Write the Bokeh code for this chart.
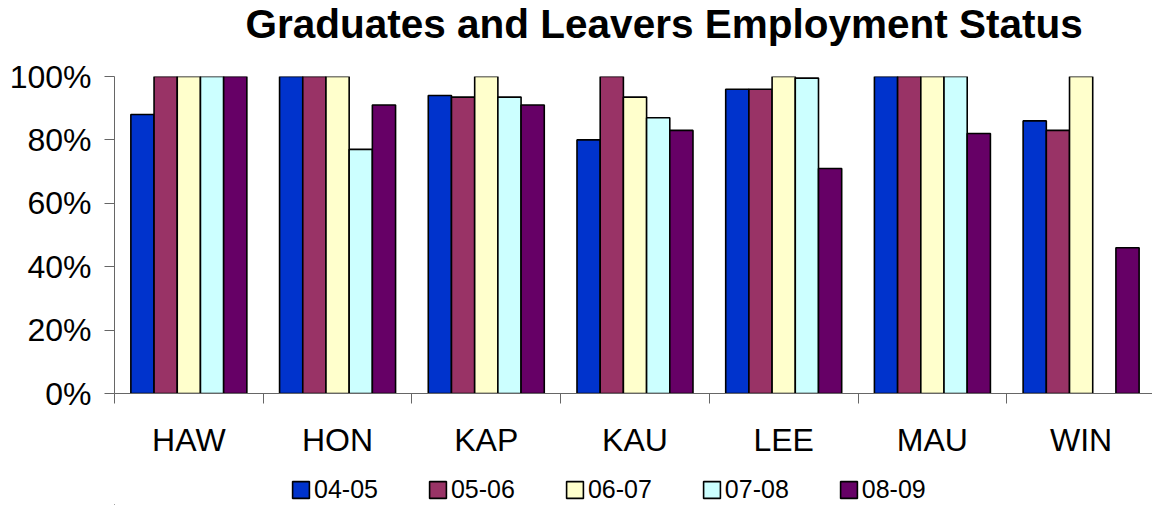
from bokeh.plotting import figure
from bokeh.layouts import column
from bokeh.models import Range1d, FixedTicker, PrintfTickFormatter, Legend, Label
from bokeh.embed import file_html
from bokeh.resources import INLINE

title_text = "Graduates and Leavers Employment Status"
categories = ["HAW", "HON", "KAP", "KAU", "LEE", "MAU", "WIN"]
series = ["04-05", "05-06", "06-07", "07-08", "08-09"]
colors = ["#0033CC", "#993366", "#FFFFCC", "#CCFFFF", "#660066"]
v_04_05 = [88, 100, 94, 80, 96, 100, 86]
v_05_06 = [100, 100, 93.5, 100, 96, 100, 83]
v_06_07 = [100, 100, 100, 93.5, 100, 100, 100]
v_07_08 = [100, 77, 93.5, 87, 99.5, 100, float("nan")]
v_08_09 = [100, 91, 91, 83, 71, 82, 46]
values = [v_04_05, v_05_06, v_06_07, v_07_08, v_08_09]
y_ticks = [0, 20, 40, 60, 80, 100]

FONT = "Liberation Sans"

# title strip
tf = figure(width=1152, height=50, output_backend="svg", toolbar_location=None,
            x_range=Range1d(0, 1038), y_range=Range1d(0, 50),
            x_axis_location=None, y_axis_location=None,
            min_border_left=0, min_border_right=0, min_border_top=0,
            min_border_bottom=0)
tf.outline_line_color = None
tf.grid.visible = False
tf.add_layout(Label(x=131, y=27, text=title_text, text_font=FONT,
                    text_font_size="40.5px", text_font_style="bold",
                    text_color="black", text_baseline="alphabetic"))

p = figure(width=1152, height=415, output_backend="svg", toolbar_location=None,
           x_range=Range1d(0, 6.98), y_range=Range1d(0, 100),
           min_border_left=114, min_border_right=0, min_border_top=26,
           min_border_bottom=72)
p.outline_line_color = None
p.xgrid.grid_line_color = None
p.ygrid.grid_line_color = None

bw = 0.156
for j, (s, c, vals) in enumerate(zip(series, colors, values)):
    xs = [i + 0.5 + (j - 2) * bw for i in range(len(categories))]
    p.vbar(x=xs, top=vals, width=bw, bottom=0, fill_color=c,
           line_color="black", line_width=1.6)

# y axis
ya = p.yaxis[0]
ya.ticker = FixedTicker(ticks=y_ticks, minor_ticks=[])
ya.formatter = PrintfTickFormatter(format="%d%%")
ya.major_label_text_font = FONT
ya.major_label_text_font_size = "32px"
ya.major_label_text_color = "black"
ya.major_tick_out = 10
ya.major_tick_in = 0
ya.major_label_standoff = 13
ya.axis_line_color = "#666666"
ya.major_tick_line_color = "#666666"

# x axis
xa = p.xaxis[0]
xa.ticker = FixedTicker(ticks=[i + 0.5 for i in range(len(categories))],
                        minor_ticks=list(range(len(categories) + 1)))
xa.major_label_overrides = {i + 0.5: c for i, c in enumerate(categories)}
xa.major_label_text_font = FONT
xa.major_label_text_font_size = "32px"
xa.major_label_text_color = "black"
xa.major_tick_line_color = None
xa.major_tick_out = 0
xa.major_tick_in = 0
xa.minor_tick_out = 10
xa.minor_tick_in = 0
xa.minor_tick_line_color = "#666666"
xa.axis_line_color = "#666666"
xa.major_label_standoff = 18

# legend strip
lg = figure(width=1152, height=40, output_backend="svg", toolbar_location=None,
            x_range=Range1d(0, 1), y_range=Range1d(0, 1),
            x_axis_location=None, y_axis_location=None,
            min_border_left=0, min_border_right=0, min_border_top=0,
            min_border_bottom=0)
lg.outline_line_color = None
lg.grid.visible = False
items = []
for s, c in zip(series, colors):
    r = lg.vbar(x=[-10], top=[-10], bottom=[-11], width=0.1, fill_color=c,
                line_color="black", line_width=1.6)
    items.append((s, [r]))
legend = Legend(items=items, orientation="horizontal", location=(176, 1),
                glyph_width=21, glyph_height=21, label_standoff=3, spacing=49,
                padding=0, margin=0, border_line_color=None,
                background_fill_alpha=0, label_text_font=FONT,
                label_text_color="black",
                label_text_font_size="25px", label_height=21)
lg.add_layout(legend, "center")

layout = column(tf, p, lg, spacing=0)
open("out.html", "w").write(file_html(layout, INLINE))
